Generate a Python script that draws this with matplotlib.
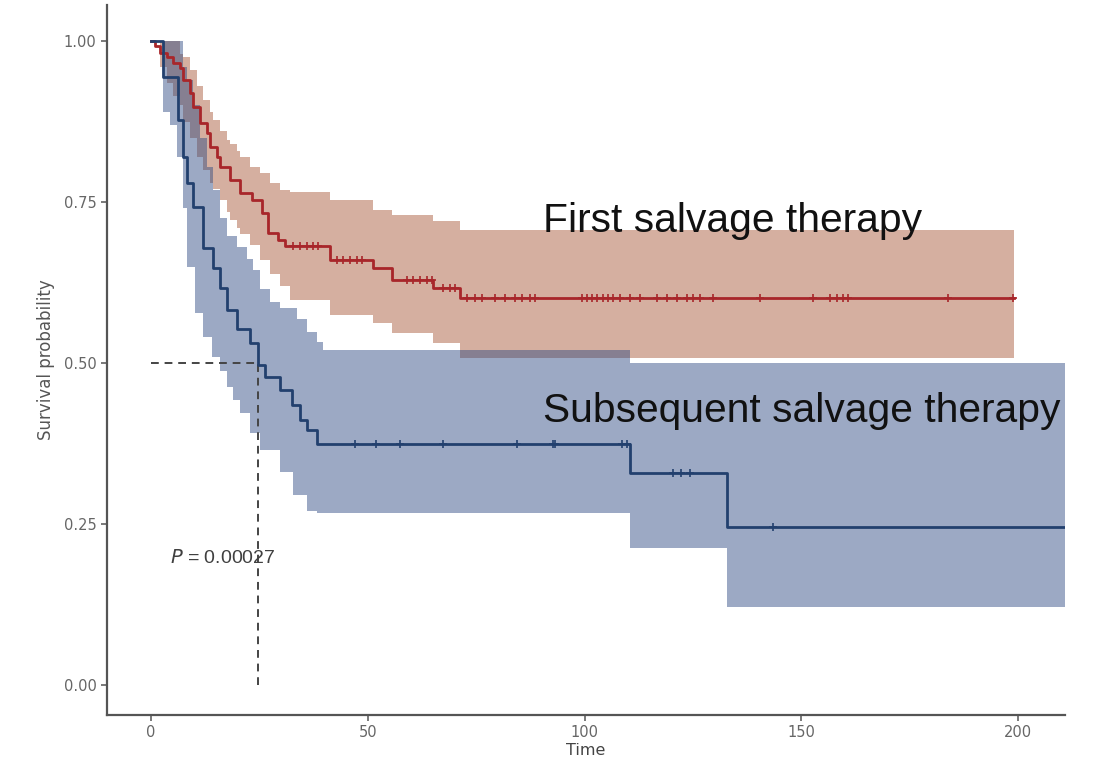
import matplotlib
matplotlib.use("Agg")
import matplotlib.pyplot as plt
import numpy as np

# First salvage therapy (red) - Kaplan-Meier steps
FIRST_TIME = [0, 0.9, 2.1, 3.7, 5.1, 6.7, 7.4, 9.0, 9.7, 11.3, 12.9, 13.6, 15.2, 15.9,
              18.2, 20.5, 23.3, 25.6, 26.9, 29.3, 30.9, 41.3, 51.2, 55.6, 65.1, 71.3]
FIRST_SURV = [1.0, 0.993, 0.981, 0.975, 0.966, 0.958, 0.939, 0.919, 0.897, 0.873, 0.857,
              0.835, 0.820, 0.804, 0.784, 0.764, 0.753, 0.733, 0.702, 0.691, 0.682,
              0.660, 0.648, 0.629, 0.616, 0.601]
FIRST_END = 199.0

FIRST_BAND_TIME = [0, 2.1, 3.7, 5.1, 6.7, 7.4, 9.0, 10.6, 12.0, 13.6, 14.3, 15.9, 17.5, 18.2,
                   19.8, 20.5, 22.8, 25.1, 27.5, 29.8, 32.1, 41.3, 51.2, 55.6, 65.1, 71.3]
FIRST_UPPER = [1.0, 1.0, 1.0, 1.0, 0.98, 0.975, 0.955, 0.93, 0.908, 0.89, 0.877, 0.86, 0.846,
               0.84, 0.83, 0.82, 0.804, 0.795, 0.78, 0.769, 0.765, 0.753, 0.738, 0.73, 0.72,
               0.706]
FIRST_LOWER = [1.0, 0.96, 0.935, 0.915, 0.90, 0.875, 0.85, 0.82, 0.80, 0.78, 0.77, 0.753,
               0.735, 0.722, 0.71, 0.70, 0.683, 0.66, 0.638, 0.62, 0.598, 0.575, 0.562, 0.547,
               0.531, 0.508]

FIRST_CENSOR = [32.8, 34.4, 36.0, 37.4, 38.5, 42.9, 44.3, 45.9, 47.5, 48.7, 59.1, 60.4, 62.1,
                63.7, 64.8, 67.4, 69.0, 70.1, 72.9, 74.7, 76.4, 79.4, 81.7, 84.0, 85.6, 87.4,
                88.6, 99.4, 100.6, 101.7, 102.9, 104.3, 105.4, 106.6, 108.2, 110.5, 112.8,
                116.7, 119.0, 121.3, 123.6, 125.0, 126.6, 129.6, 140.5, 152.7, 156.7, 158.3,
                159.6, 160.8, 183.9, 198.8]

# Subsequent salvage therapy (blue)
SUBSEQ_TIME = [0, 2.8, 6.2, 7.4, 8.3, 9.7, 12.0, 14.3, 15.9, 17.5, 19.8, 22.8, 24.7, 26.3,
               29.8, 32.5, 34.4, 36.0, 38.3, 110.5, 132.9]
SUBSEQ_SURV = [1.0, 0.944, 0.877, 0.82, 0.78, 0.742, 0.679, 0.648, 0.617, 0.582, 0.553, 0.531,
               0.497, 0.478, 0.458, 0.435, 0.411, 0.396, 0.374, 0.329, 0.245]
SUBSEQ_END = 210.8

SUBSEQ_BAND_TIME = [0, 2.8, 4.4, 6.0, 7.4, 8.3, 9.7, 10.2, 11.3, 12.0, 12.9, 14.1, 14.3, 15.9,
                    17.5, 18.9, 19.8, 20.5, 22.1, 22.8, 23.5, 25.1, 27.5, 29.8, 32.8, 33.7,
                    36.0, 38.3, 39.7, 110.5, 132.9]
SUBSEQ_UPPER = [1.0, 1.0, 1.0, 1.0, 0.96, 0.94, 0.90, 0.90, 0.85, 0.85, 0.804, 0.804, 0.769,
                0.725, 0.697, 0.697, 0.68, 0.68, 0.662, 0.662, 0.645, 0.615, 0.595, 0.585,
                0.585, 0.568, 0.548, 0.532, 0.52, 0.50, 0.50]
SUBSEQ_LOWER = [1.0, 0.89, 0.87, 0.82, 0.74, 0.649, 0.649, 0.578, 0.578, 0.54, 0.54, 0.509,
                0.509, 0.488, 0.463, 0.443, 0.443, 0.422, 0.422, 0.391, 0.391, 0.365, 0.365,
                0.33, 0.295, 0.295, 0.27, 0.267, 0.267, 0.213, 0.121]

SUBSEQ_CENSOR = [47.1, 51.9, 57.4, 67.4, 84.4, 92.7, 93.2, 108.6, 109.8, 120.4, 122.3, 124.3,
                 143.5]

MEDIAN_SUBSEQ = 24.7
P_LABEL = "P = 0.00027"

RED_LINE = "#A8262A"
RED_FILL = "#D5AFA0"
BLUE_LINE = "#22406E"
BLUE_FILL = "#2E4A82"


def extend(times, values, end):
    return np.append(times, end), np.append(values, values[-1])


def surv_at(times, surv, t):
    idx = np.searchsorted(times, t, side="right") - 1
    return np.asarray(surv)[idx]


fig = plt.figure(figsize=(10.96, 7.66), dpi=100)
ax = fig.add_axes([107 / 1096, 1 - 715 / 766, (1065 - 107) / 1096, (715 - 5) / 766])

# confidence bands
t, up = extend(FIRST_BAND_TIME, FIRST_UPPER, FIRST_END)
_, lo = extend(FIRST_BAND_TIME, FIRST_LOWER, FIRST_END)
ax.fill_between(t, lo, up, step="post", color=RED_FILL, lw=0, zorder=1)

t, up = extend(SUBSEQ_BAND_TIME, SUBSEQ_UPPER, SUBSEQ_END)
_, lo = extend(SUBSEQ_BAND_TIME, SUBSEQ_LOWER, SUBSEQ_END)
ax.fill_between(t, lo, up, step="post", color=BLUE_FILL, alpha=0.47, lw=0, zorder=2)

# median lines
ax.plot([0, MEDIAN_SUBSEQ], [0.5, 0.5], ls=(0, (4, 3)), color="#444444", lw=1.4, zorder=3)
ax.plot([MEDIAN_SUBSEQ, MEDIAN_SUBSEQ], [0, 0.5], ls=(0, (4, 3)), color="#444444", lw=1.4,
        zorder=3)

# survival curves
t, s = extend(FIRST_TIME, FIRST_SURV, FIRST_END)
ax.step(t, s, where="post", color=RED_LINE, lw=2, zorder=4)
ax.plot(FIRST_CENSOR, surv_at(FIRST_TIME, FIRST_SURV, FIRST_CENSOR), ls="none", marker="+",
        ms=6, mew=1.2, color=RED_LINE, zorder=5)

t, s = extend(SUBSEQ_TIME, SUBSEQ_SURV, SUBSEQ_END)
ax.step(t, s, where="post", color=BLUE_LINE, lw=2, zorder=4)
ax.plot(SUBSEQ_CENSOR, surv_at(SUBSEQ_TIME, SUBSEQ_SURV, SUBSEQ_CENSOR), ls="none", marker="+",
        ms=6, mew=1.2, color=BLUE_LINE, zorder=5)

# annotations
ax.text(90.4, 0.703, "First salvage therapy", fontsize=29.3, family="Liberation Sans",
        color="#111111", va="baseline", ha="left", zorder=6)
ax.text(90.4, 0.408, "Subsequent salvage therapy", fontsize=29.3, family="Liberation Sans",
        color="#111111", va="baseline", ha="left", zorder=6)
ax.text(4.4, 0.189, "$\\mathit{P}$" + P_LABEL[1:], fontsize=14, family="Liberation Sans",
        color="#404040", va="baseline", ha="left", zorder=6)

ax.set_xlim(-10.15, 210.8)
ax.set_ylim(-0.0466, 1.056)
ax.set_xticks([0, 50, 100, 150, 200])
ax.set_yticks([0, 0.25, 0.5, 0.75, 1.0])
ax.set_yticklabels(["0.00", "0.25", "0.50", "0.75", "1.00"])

for side in ["top", "right"]:
    ax.spines[side].set_visible(False)
for side in ["left", "bottom"]:
    ax.spines[side].set_color("#555555")
    ax.spines[side].set_linewidth(1.6)
ax.tick_params(colors="#555555", labelsize=10.5, length=4, width=1.1)
for lab in ax.get_xticklabels() + ax.get_yticklabels():
    lab.set_color("#666666")

ax.set_xlabel("Time", fontsize=11.5, color="#444444", labelpad=2)
ax.set_ylabel("Survival probability", fontsize=12, color="#555555", labelpad=6)

fig.savefig("out.png", dpi=100)
